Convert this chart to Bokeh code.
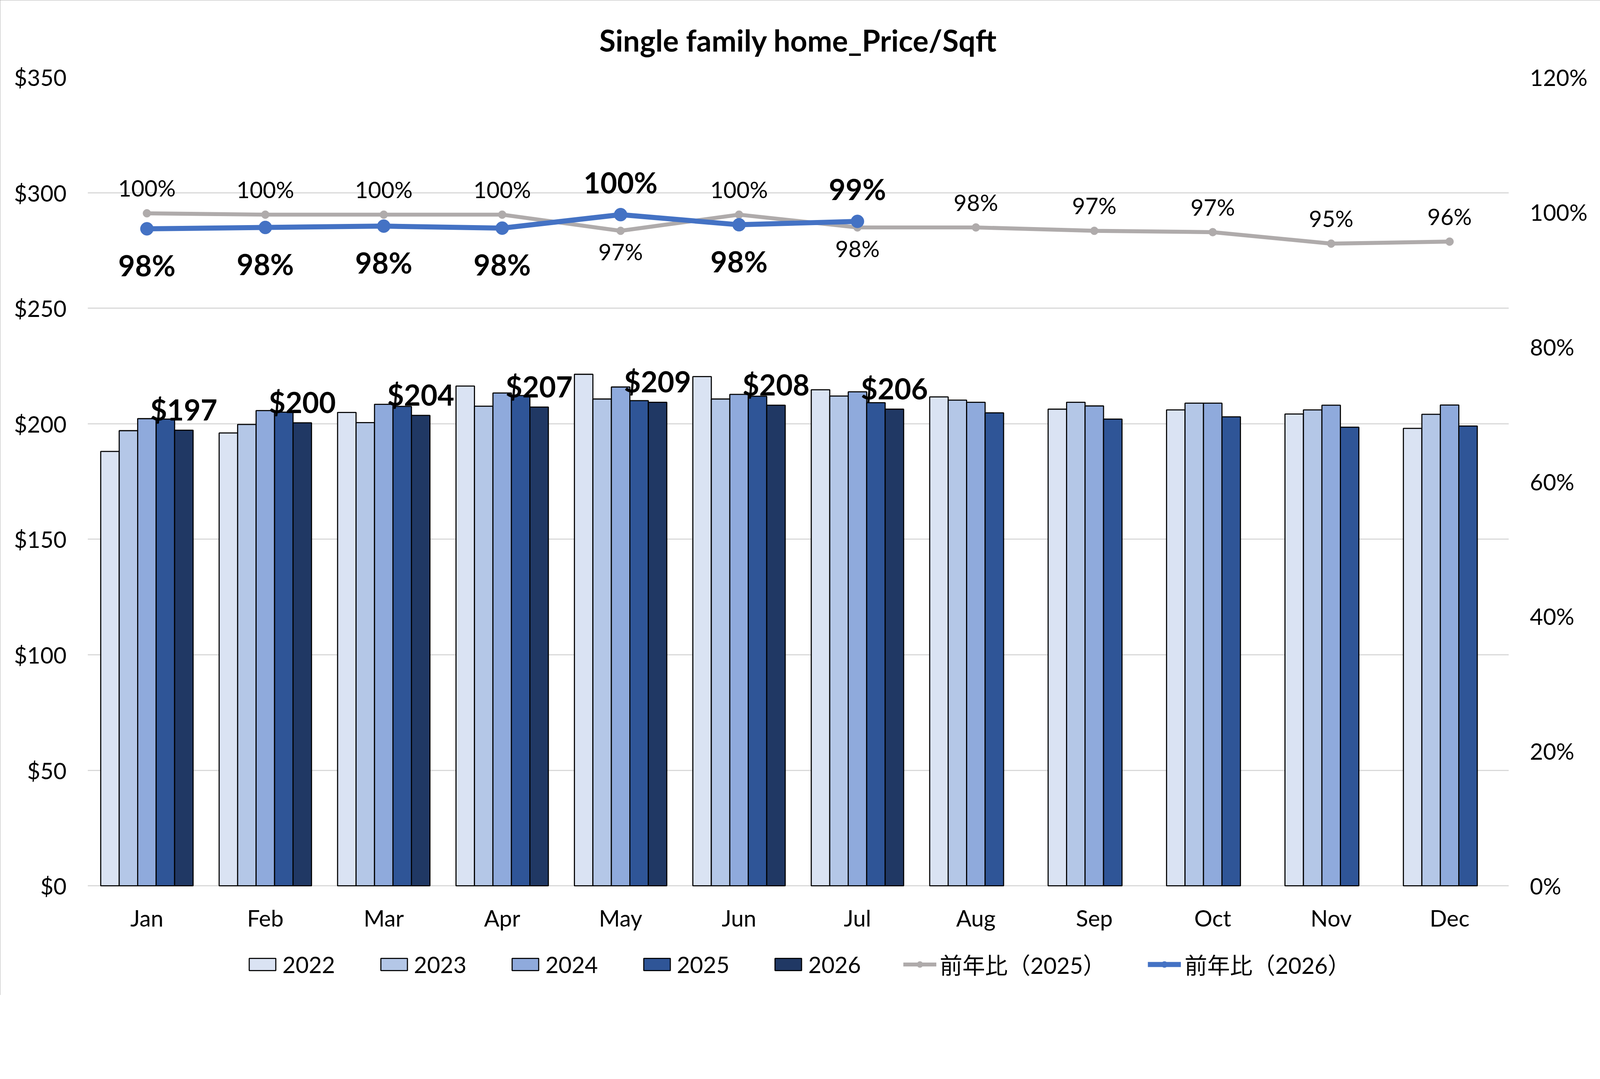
import math
from bokeh.plotting import figure
from bokeh.models import (FactorRange, Range1d, LinearAxis, FixedTicker, NumeralTickFormatter,
                          PrintfTickFormatter, ColumnDataSource, Legend, LegendItem)
from bokeh.transform import dodge
from bokeh.core.properties import value
from bokeh.embed import file_html
from bokeh.resources import INLINE

NaN = float("nan")

# ---------------- data ----------------
months = ["Jan", "Feb", "Mar", "Apr", "May", "Jun", "Jul", "Aug", "Sep", "Oct", "Nov", "Dec"]
years = ["2022", "2023", "2024", "2025", "2026"]
price_2022 = [188.0, 196.0, 204.9, 216.3, 221.4, 220.4, 214.7, 211.6, 206.3, 206.0, 204.2, 198.0]
price_2023 = [197.0, 199.7, 200.5, 207.6, 210.7, 210.7, 212.0, 210.2, 209.3, 208.9, 206.0, 204.1]
price_2024 = [202.2, 205.7, 208.4, 213.3, 215.9, 212.7, 213.8, 209.3, 207.7, 208.9, 208.0, 208.1]
price_2025 = [202.0, 205.0, 207.5, 212.2, 210.0, 211.9, 209.1, 204.7, 202.0, 203.0, 198.5, 199.0]
price_2026 = [197.2, 200.4, 203.6, 207.2, 209.3, 208.0, 206.3, NaN, NaN, NaN, NaN, NaN]
yoy_2025 = [99.8, 99.6, 99.6, 99.6, 97.2, 99.6, 97.7, 97.7, 97.2, 97.0, 95.3, 95.6]
yoy_2026 = [97.5, 97.7, 97.9, 97.6, 99.6, 98.1, 98.6]
left_ticks = [0, 50, 100, 150, 200, 250, 300, 350]
right_ticks = [0, 20, 40, 60, 80, 100, 120]

# label placement (style)
yoy_2025_place = ["above", "above", "above", "above", "below", "above", "below",
                  "above", "above", "above", "above", "above"]
yoy_2026_place = ["below", "below", "below", "below", "above", "below", "above"]

bar_colors = ["#dae3f3", "#b4c7e7", "#8faadc", "#2f5597", "#203864"]
gray = "#afabab"
blue = "#4472c4"
FONT = "Lato, Noto Sans CJK JP"

S = 1 / 1.078   # global size factor


def px(v):
    return "%dpx" % round(v * S)


def n(v):
    return round(v * S)


# the plot frame reaches down to the legend; the price axis starts at $0 visually
Y_MAX = 350
Y_LOW = -46.5                      # room under $0 for month labels + legend
P_MAX = 120
P_LOW = Y_LOW * P_MAX / Y_MAX

W, H = 4419, 2745
p = figure(x_range=FactorRange(*months, range_padding=0), y_range=Range1d(Y_LOW, Y_MAX),
           width=n(W), height=n(H), output_backend="svg", toolbar_location=None,
           min_border_left=n(241), min_border_right=n(255), min_border_top=n(212),
           min_border_bottom=n(5))
p.extra_y_ranges = {"pct": Range1d(P_LOW, P_MAX)}
p.background_fill_color = "white"
p.border_fill_color = "white"
p.outline_line_color = None
p.styles = {"outline": "2px solid #9a9a9a", "outline-offset": "-2px"}

# title
p.title.text = "Single family home_Price/Sqft"
p.title.align = "center"
p.title.text_font = FONT
p.title.text_font_size = px(82)
p.title.text_font_style = "bold"
p.title.text_color = "black"
p.title.standoff = n(108)

# axes
p.yaxis.ticker = FixedTicker(ticks=left_ticks)
p.yaxis.formatter = NumeralTickFormatter(format="$0")
yax = p.yaxis[0]
yax.axis_line_color = None
yax.major_tick_line_color = None
yax.minor_tick_line_color = None
yax.major_tick_out = 0
yax.major_label_text_font = FONT
yax.major_label_text_font_size = px(63)
yax.major_label_text_color = "black"
yax.major_label_standoff = n(58)
p.xaxis.visible = False

raxis = LinearAxis(y_range_name="pct", ticker=FixedTicker(ticks=right_ticks),
                   formatter=PrintfTickFormatter(format="%d%%"))
raxis.axis_line_color = None
raxis.major_tick_line_color = None
raxis.minor_tick_line_color = None
raxis.major_tick_out = 0
raxis.major_label_text_font = FONT
raxis.major_label_text_font_size = px(63)
raxis.major_label_text_color = "black"
raxis.major_label_standoff = n(58)
p.add_layout(raxis, "right")

p.xgrid.grid_line_color = None
p.ygrid.ticker = FixedTicker(ticks=left_ticks)
p.ygrid.grid_line_color = "#d9d9d9"
p.ygrid.grid_line_width = 3 * S

# month (category) labels under the $0 line
msrc = ColumnDataSource(dict(month=months, y=[0] * len(months)))
p.text("month", "y", text="month", source=msrc, text_font=value(FONT),
       text_font_size=px(63), text_align="center", text_baseline="middle",
       y_offset=n(88), text_color="black")

# bars
src = ColumnDataSource(dict(month=months, y2022=price_2022, y2023=price_2023,
                            y2024=price_2024, y2025=price_2025, y2026=price_2026))
bw = 0.156
offsets = [-2 * bw, -bw, 0.0, bw, 2 * bw]
bar_renderers = []
for yr, off, col in zip(years, offsets, bar_colors):
    r = p.vbar(x=dodge("month", off, range=p.x_range), top="y" + yr, bottom=0, width=bw,
               source=src, fill_color=col, line_color="black", line_width=3 * S)
    bar_renderers.append(r)

# 2026 bar labels
n26 = len(yoy_2026)
lab_src = ColumnDataSource(dict(month=months[:n26], top=price_2026[:n26],
                                txt=["$%d" % round(v) for v in price_2026[:n26]]))
p.text(x=dodge("month", 2 * bw, range=p.x_range), y="top", text="txt", source=lab_src,
       text_font=value(FONT), text_font_size=px(80), text_font_style="bold",
       text_align="center", text_baseline="bottom", y_offset=-n(10), text_color="black")

# YoY lines
l25_src = ColumnDataSource(dict(month=months, v=yoy_2025))
l26_src = ColumnDataSource(dict(month=months[:n26], v=yoy_2026))
g_line = p.line("month", "v", source=l25_src, y_range_name="pct", line_color=gray, line_width=11 * S)
g_dot = p.scatter("month", "v", source=l25_src, y_range_name="pct", size=22 * S,
                  fill_color=gray, line_color=gray)
b_line = p.line("month", "v", source=l26_src, y_range_name="pct", line_color=blue, line_width=14 * S)
b_dot = p.scatter("month", "v", source=l26_src, y_range_name="pct", size=36 * S,
                  fill_color=blue, line_color=blue)


def add_labels(mlist, vals, places, size, style, up, down):
    for where, off in (("above", up), ("below", down)):
        idx = [i for i, pl in enumerate(places) if pl == where]
        if not idx:
            continue
        s = ColumnDataSource(dict(month=[mlist[i] for i in idx], v=[vals[i] for i in idx],
                                  txt=["%d%%" % round(vals[i]) for i in idx]))
        p.text("month", "v", text="txt", source=s, y_range_name="pct",
               text_font=value(FONT), text_font_size=size, text_font_style=style,
               text_align="center", text_baseline="middle", y_offset=off, text_color="black")


add_labels(months, yoy_2025, yoy_2025_place, px(63), "normal", -n(70), n(57))
add_labels(months[:n26], yoy_2026, yoy_2026_place, px(80), "bold", -n(90), n(100))

# legend at the bottom of the (extended) frame
items = [LegendItem(label=yr, renderers=[r]) for yr, r in zip(years, bar_renderers)]
items.append(LegendItem(label="前年比（2025）", renderers=[g_line, g_dot]))
items.append(LegendItem(label="前年比（2026）", renderers=[b_line, b_dot]))
legend = Legend(items=items, orientation="horizontal", location="bottom_center",
                glyph_width=n(92), glyph_height=n(42), label_standoff=n(10), spacing=n(116),
                label_text_font=FONT, label_text_font_size=px(62), label_text_color="black",
                border_line_color=None, background_fill_alpha=0, padding=n(20), margin=n(35))
p.add_layout(legend, "center")

open("out.html", "w").write(file_html(p, INLINE))
